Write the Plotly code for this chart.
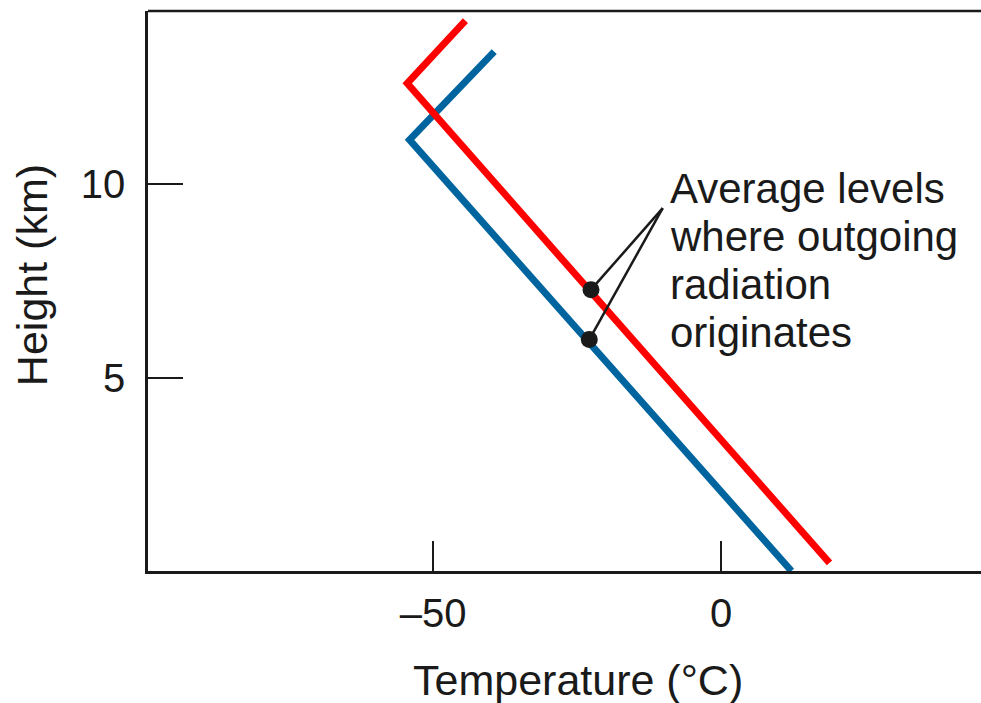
import plotly.graph_objects as go

# Temperature profiles (°C) against height (km)
blue_temp = [12.2, -54.1, -39.4]
blue_height = [0.0, 11.14, 13.42]
red_temp = [18.8, -54.5, -44.4]
red_height = [0.21, 12.60, 14.22]

# Average emission levels on each profile
level_temp = [-22.6, -22.9]
level_height = [7.27, 5.98]

# Pointer apex for the label
apex_temp = -10.15
apex_height = 9.375

x_tickvals = [-50, 0]
x_ticktext = ["–50", "0"]
y_tickvals = [5, 10]
y_ticktext = ["5", "10"]

label_lines = ["Average levels", "where outgoing", "radiation", "originates"]
label_line_heights = [9.875, 8.636, 7.397, 6.157]
label_temp = -9.16

FONT = "Liberation Sans, Arial, Helvetica, sans-serif"
INK = "#1a1a1a"

fig = go.Figure()

fig.add_trace(go.Scatter(
    x=blue_temp, y=blue_height, mode="lines",
    line=dict(color="#00649e", width=7), hoverinfo="skip"))
fig.add_trace(go.Scatter(
    x=red_temp, y=red_height, mode="lines",
    line=dict(color="#ff0000", width=7), hoverinfo="skip"))

# Pointer lines from the label to each level
for t, h in zip(level_temp, level_height):
    fig.add_trace(go.Scatter(
        x=[apex_temp, t], y=[apex_height, h], mode="lines",
        line=dict(color=INK, width=2.5), hoverinfo="skip"))

fig.add_trace(go.Scatter(
    x=level_temp, y=level_height, mode="markers",
    marker=dict(color=INK, size=17), hoverinfo="skip"))

for line, h in zip(label_lines, label_line_heights):
    fig.add_annotation(
        x=label_temp, y=h, xref="x", yref="y", text=line,
        showarrow=False, xanchor="left", yanchor="middle", align="left",
        font=dict(family=FONT, size=42, color=INK))

fig.add_annotation(
    x=0.5168, y=-0.194, xref="paper", yref="paper",
    text="Temperature (°C)", showarrow=False,
    xanchor="center", yanchor="middle",
    font=dict(family=FONT, size=43, color=INK))

fig.add_annotation(
    x=-0.14, y=0.529, xref="paper", yref="paper",
    text="Height (km)", showarrow=False, textangle=-90,
    xanchor="center", yanchor="middle",
    font=dict(family=FONT, size=43, color=INK))

# Top border of the frame
fig.add_shape(type="line", xref="paper", yref="paper",
              x0=0, x1=1, y0=1, y1=1,
              line=dict(color=INK, width=2.5))

fig.update_layout(
    width=981, height=703,
    margin=dict(l=148, r=0, t=11, b=131.6),
    paper_bgcolor="white", plot_bgcolor="white",
    showlegend=False,
    font=dict(family=FONT, color=INK),
)

fig.update_xaxes(
    range=[-99.5, 45.1], showgrid=False, zeroline=False,
    showline=True, linecolor=INK, linewidth=2.5,
    ticks="inside", ticklen=30, tickwidth=2, tickcolor=INK,
    tickvals=x_tickvals, ticktext=x_ticktext,
    tickfont=dict(family=FONT, size=40, color=INK),
    ticklabelstandoff=5,
)
fig.update_yaxes(
    range=[0, 14.47], showgrid=False, zeroline=False,
    showline=True, linecolor=INK, linewidth=2.5,
    ticks="inside", ticklen=35, tickwidth=2, tickcolor=INK,
    tickvals=y_tickvals, ticktext=y_ticktext,
    tickfont=dict(family=FONT, size=40, color=INK),
    ticklabelstandoff=12,
)

fig.write_html("out.html")
